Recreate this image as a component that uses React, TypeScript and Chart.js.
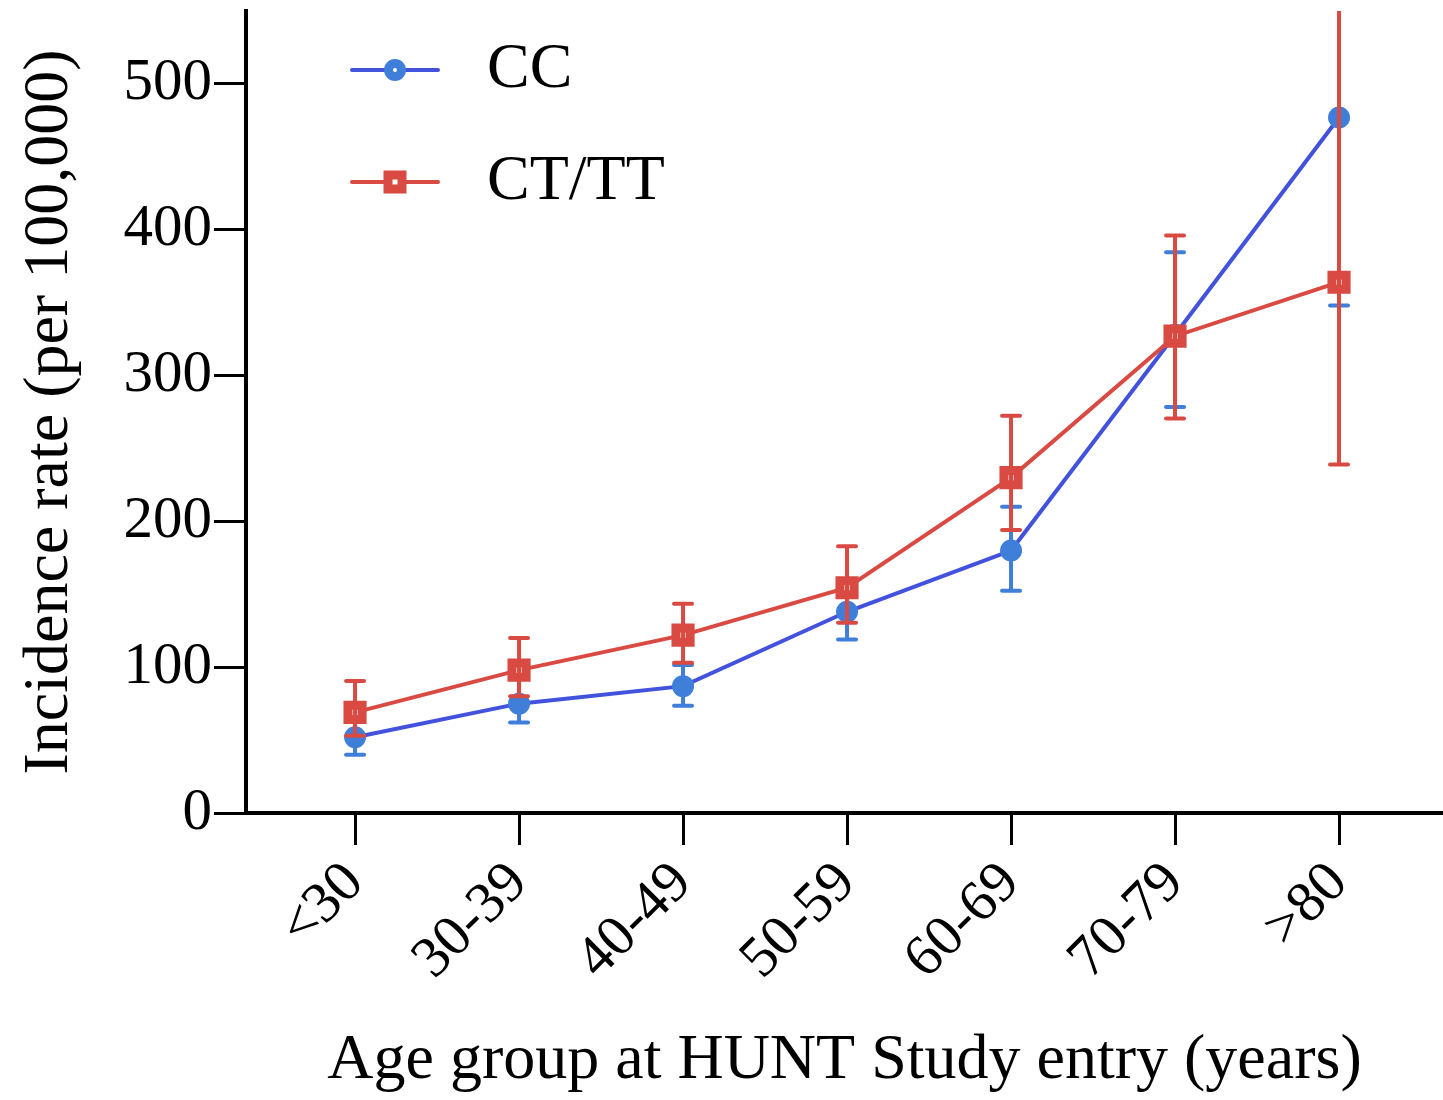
import React, { useEffect, useRef } from "react";
import { Chart, registerables } from "chart.js";

Chart.register(...registerables);

const categories = ["<30", "30-39", "40-49", "50-59", "60-69", "70-79", ">80"];
const ccValues = [52, 75, 87, 138, 180, 328, 477];
const ccLow = [40, 62, 73.5, 119, 152.5, 278.5, 348];
const ccHigh = [64, 92, 101.5, 156, 210, 384.5, 620];
const ctValues = [69, 98, 122, 154.5, 230, 327, 364];
const ctLow = [53, 80, 103, 130.5, 194, 270.5, 239];
const ctHigh = [90.5, 120, 143.5, 183, 272.5, 396, 600];
const yTicks = [0, 100, 200, 300, 400, 500];

const FONT = "'Liberation Serif', 'Times New Roman', serif";
const BLUE_LINE = "#4352dc";
const BLUE_MARK = "#3f7fda";
const RED = "#d94a43";

const seriesLows = [ccLow, ctLow];
const seriesHighs = [ccHigh, ctHigh];
const seriesMarkColors = [BLUE_MARK, RED];

const errorBarPlugin = {
  id: "errorBars",
  afterDatasetDraw(chart: any, args: any) {
    const i = args.index;
    const xs = chart.scales.x;
    const ys = chart.scales.y;
    const ctx = chart.ctx;
    const area = chart.chartArea;
    ctx.save();
    ctx.beginPath();
    ctx.rect(area.left, area.top, area.right - area.left, area.bottom - area.top);
    ctx.clip();
    ctx.strokeStyle = seriesMarkColors[i];
    ctx.lineWidth = 4;
    ctx.lineCap = "round";
    categories.forEach((_, k) => {
      const x = xs.getPixelForValue(k);
      const yl = ys.getPixelForValue(seriesLows[i][k]);
      const yh = ys.getPixelForValue(seriesHighs[i][k]);
      ctx.beginPath();
      ctx.moveTo(x, yl);
      ctx.lineTo(x, yh);
      ctx.moveTo(x - 9, yl);
      ctx.lineTo(x + 9, yl);
      ctx.moveTo(x - 9, yh);
      ctx.lineTo(x + 9, yh);
      ctx.stroke();
    });
    ctx.restore();
  },
};

const legendPlugin = {
  id: "customLegend",
  afterDraw(chart: any) {
    const ctx = chart.ctx;
    const items = [
      { label: "CC", line: BLUE_LINE, mark: BLUE_MARK, style: "circle", y: 70 },
      { label: "CT/TT", line: RED, mark: RED, style: "rect", y: 182 },
    ];
    ctx.save();
    items.forEach((it) => {
      ctx.strokeStyle = it.line;
      ctx.lineWidth = 4;
      ctx.lineCap = "round";
      ctx.beginPath();
      ctx.moveTo(352, it.y);
      ctx.lineTo(438, it.y);
      ctx.stroke();
      ctx.fillStyle = "#fff";
      ctx.strokeStyle = it.mark;
      ctx.lineWidth = 9;
      ctx.beginPath();
      if (it.style === "circle") {
        ctx.arc(395, it.y, 6.5, 0, Math.PI * 2);
      } else {
        ctx.rect(395 - 7, it.y - 7, 14, 14);
      }
      ctx.fill();
      ctx.stroke();
      ctx.fillStyle = "#000";
      ctx.font = `64px ${FONT}`;
      ctx.textBaseline = "middle";
      ctx.textAlign = "left";
      ctx.fillText(it.label, 487, it.y);
    });
    ctx.restore();
  },
};

export default function App() {
  const ref = useRef<HTMLCanvasElement | null>(null);

  useEffect(() => {
    if (!ref.current) return;
    const chart = new Chart(ref.current, {
      type: "line",
      data: {
        datasets: [
          {
            label: "CC",
            data: ccValues.map((v, i) => ({ x: i, y: v })),
            borderColor: BLUE_LINE,
            borderWidth: 4,
            pointStyle: "circle",
            pointRadius: 6.5,
            pointBorderWidth: 9,
            pointBackgroundColor: "#fff",
            pointBorderColor: BLUE_MARK,
            order: 2,
            tension: 0,
          },
          {
            label: "CT/TT",
            data: ctValues.map((v, i) => ({ x: i, y: v })),
            borderColor: RED,
            borderWidth: 4,
            pointStyle: "rect",
            pointRadius: 10,
            pointBorderWidth: 9,
            pointBackgroundColor: "#fff",
            pointBorderColor: RED,
            order: 1,
            tension: 0,
          },
        ],
      },
      options: {
        animation: false,
        responsive: false,
        maintainAspectRatio: false,
        events: [],
        layout: { autoPadding: false, padding: { top: 11, right: 0, left: 0, bottom: 0 } },
        plugins: {
          legend: { display: false },
          tooltip: { enabled: false },
        },
        scales: {
          x: {
            type: "linear",
            min: -0.665,
            max: 6.634,
            afterBuildTicks: (s: any) => {
              s.ticks = categories.map((_, i) => ({ value: i }));
            },
            afterFit: (s: any) => {
              s.height = 287;
              s.paddingLeft = 0;
              s.paddingRight = 0;
              s.paddingTop = 0;
              s.paddingBottom = 0;
            },
            ticks: {
              autoSkip: false,
              minRotation: 45,
              maxRotation: 45,
              padding: 4,
              color: "#000",
              font: { family: FONT, size: 58 },
              callback: (v: any) => categories[Math.round(v)] ?? "",
            },
            grid: {
              drawOnChartArea: false,
              drawTicks: true,
              tickLength: 32,
              tickWidth: 3,
              tickColor: "#000",
            },
            border: { display: true, color: "#000", width: 4 },
            title: {
              display: true,
              text: "Age group at HUNT Study entry (years)",
              color: "#000",
              font: { family: FONT, size: 64 },
              padding: { top: 0, bottom: 0 },
            },
          },
          y: {
            type: "linear",
            min: 0,
            max: 550,
            afterBuildTicks: (s: any) => {
              s.ticks = yTicks.map((v) => ({ value: v }));
            },
            afterFit: (s: any) => {
              s.width = 246;
              s.paddingLeft = 0;
              s.paddingRight = 0;
              s.paddingTop = 0;
              s.paddingBottom = 0;
            },
            ticks: {
              padding: 2,
              color: "#000",
              font: { family: FONT, size: 59 },
            },
            grid: {
              drawOnChartArea: false,
              drawTicks: true,
              tickLength: 32,
              tickWidth: 3,
              tickColor: "#000",
            },
            border: { display: true, color: "#000", width: 4 },
            title: {
              display: true,
              text: "Incidence rate (per 100,000)",
              color: "#000",
              font: { family: FONT, size: 64 },
              padding: { top: 12, bottom: 0 },
            },
          },
        },
      },
      plugins: [errorBarPlugin, legendPlugin],
    } as any);
    return () => chart.destroy();
  }, []);

  return (
    <div style={{ position: "absolute", left: 0, top: 0, width: 1443, height: 1100, background: "#fff" }}>
      <canvas ref={ref} width={1443} height={1100} style={{ display: "block", width: 1443, height: 1100 }} />
    </div>
  );
}
